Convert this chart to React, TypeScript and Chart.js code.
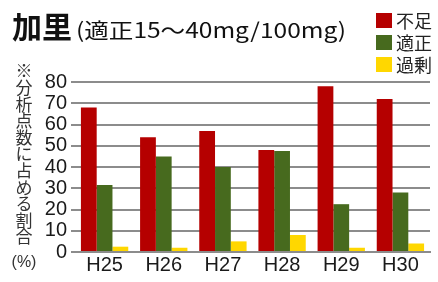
import { useEffect, useRef } from "react";
import { Chart, registerables } from "chart.js";

Chart.register(...registerables);

const categories = ["H25", "H26", "H27", "H28", "H29", "H30"];
const seriesLabels = ["不足", "適正", "過剰"];
const shortage = [68, 54, 57, 48, 78, 72];
const adequate = [31.5, 45, 40, 47.5, 22.5, 28];
const excess = [2.5, 2, 5, 8, 2, 4];
const seriesColors = ["#B50000", "#476A1E", "#FFD700"];
const yMin = 0;
const yMax = 80;
const yStep = 10;
const titleMain = "加里";
const titleSub = "(適正15～40mg/100mg)";
const yAxisLabel = "※分析点数に占める割合";
const yAxisUnit = "(%)";

const LATIN = "'Liberation Sans', Arial, 'Noto Sans CJK JP', sans-serif";
const CJK = "'Noto Sans CJK JP', 'Liberation Sans', sans-serif";

const decor = {
  id: "decor",
  afterDraw(chart: any) {
    const ctx = chart.ctx as CanvasRenderingContext2D;
    ctx.save();
    // title
    ctx.fillStyle = "#111";
    ctx.textAlign = "left";
    ctx.textBaseline = "alphabetic";
    ctx.font = `bold 30px ${CJK}`;
    ctx.fillText(titleMain, 12, 38);
    ctx.font = `21px ${CJK}`;
    const sw = ctx.measureText(titleSub).width;
    const target = 270;
    ctx.save();
    ctx.translate(76, 38);
    ctx.scale(target / sw, 1);
    ctx.fillText(titleSub, 0, 0);
    ctx.restore();
    // legend
    chart.data.datasets.forEach((ds: any, i: number) => {
      const y = 13 + i * 22;
      ctx.fillStyle = ds.backgroundColor;
      ctx.fillRect(376, y, 16, 15);
      ctx.fillStyle = "#222";
      ctx.font = `18px ${CJK}`;
      ctx.textBaseline = "middle";
      ctx.textAlign = "left";
      ctx.fillText(ds.label, 396, y + 8);
    });
    // vertical axis label
    ctx.fillStyle = "#333";
    ctx.textAlign = "center";
    ctx.textBaseline = "middle";
    ctx.font = `17px ${CJK}`;
    Array.from(yAxisLabel).forEach((ch, i) => {
      ctx.fillText(ch, 24, 71 + i * 16.6);
    });
    ctx.font = `16px ${LATIN}`;
    ctx.fillText(yAxisUnit, 24, 263);
    ctx.restore();
  },
};

export default function App() {
  const ref = useRef<HTMLCanvasElement | null>(null);
  useEffect(() => {
    if (!ref.current) return;
    const data = [shortage, adequate, excess];
    const chart = new Chart(ref.current, {
      type: "bar",
      data: {
        labels: categories,
        datasets: seriesLabels.map((label, i) => ({
          label,
          data: data[i],
          backgroundColor: seriesColors[i],
          borderWidth: 0,
          categoryPercentage: 0.8,
          barPercentage: 1.0,
        })),
      },
      options: {
        animation: false,
        responsive: true,
        maintainAspectRatio: false,
        layout: { padding: { top: 82, right: 8, left: 0, bottom: 0 } },
        plugins: {
          legend: { display: false },
          title: { display: false },
          tooltip: { enabled: false },
        },
        scales: {
          x: {
            grid: { display: false, drawTicks: false },
            border: { display: true, color: "#8c8c8c", width: 2 },
            ticks: {
              color: "#1a1a1a",
              font: { family: LATIN, size: 20 },
              padding: 1,
            },
            afterFit: (s: any) => {
              s.height = 30;
            },
          },
          y: {
            min: yMin,
            max: yMax,
            ticks: {
              stepSize: yStep,
              autoSkip: false,
              color: "#1a1a1a",
              font: { family: LATIN, size: 20 },
              padding: 4,
            },
            grid: { color: "#8c8c8c", lineWidth: 2, tickLength: 4 },
            border: { display: false },
            afterFit: (s: any) => {
              s.width = 75;
            },
          },
        },
      },
      plugins: [decor],
    });
    return () => chart.destroy();
  }, []);
  return (
    <div style={{ position: "absolute", left: 0, top: 0, width: 438, height: 282, background: "#fff" }}>
      <canvas ref={ref} />
    </div>
  );
}
